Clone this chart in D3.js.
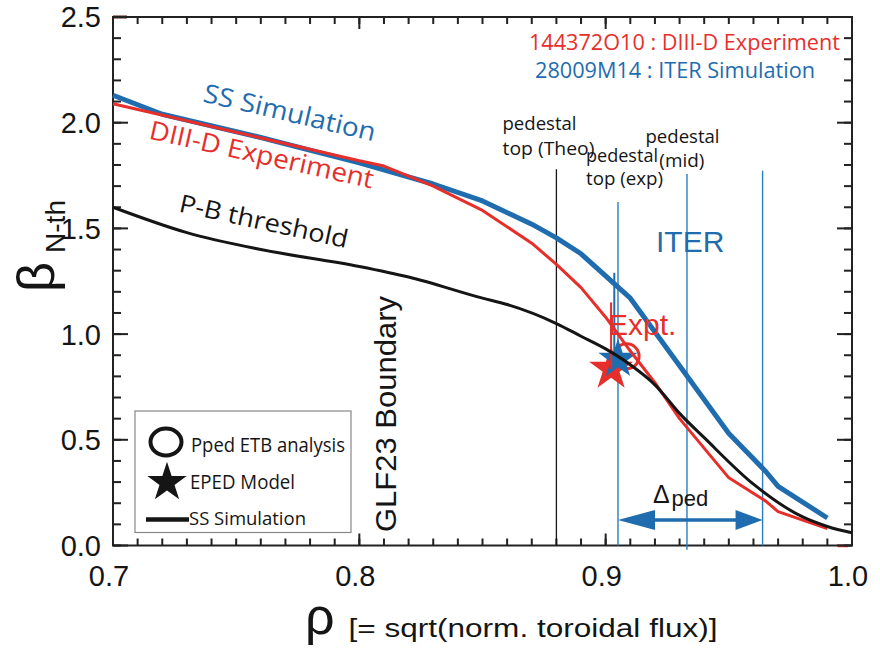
<!DOCTYPE html>
<html>
<head>
<meta charset="utf-8">
<script src="https://cdn.jsdelivr.net/npm/d3@7"></script>
<style>
  body { margin: 0; background: #fff; }
  svg { display: block; }
</style>
</head>
<body>
<svg id="chart" width="880" height="650"></svg>
<script>
// ---- profiles: normalized beta vs rho ----
const rhoSS   = [0.70, 0.72, 0.76, 0.80, 0.83, 0.85, 0.87, 0.88, 0.89, 0.91, 0.93, 0.95, 0.965, 0.97, 0.99];
const betaSS  = [2.13, 2.04, 1.93, 1.81, 1.71, 1.63, 1.52, 1.455, 1.38, 1.17, 0.85, 0.53, 0.35, 0.28, 0.13];

const rhoExp  = [0.70, 0.75, 0.80, 0.81, 0.83, 0.85, 0.87, 0.88, 0.89, 0.90, 0.91, 0.92, 0.93, 0.95, 0.965, 0.97, 0.98, 0.99];
const betaExp = [2.09, 1.955, 1.82, 1.795, 1.70, 1.585, 1.43, 1.33, 1.22, 1.08, 0.92, 0.77, 0.60, 0.32, 0.21, 0.16, 0.12, 0.08];

const rhoPB   = [0.70, 0.73, 0.76, 0.80, 0.82, 0.85, 0.86, 0.88, 0.89, 0.90, 0.91, 0.92, 0.93, 0.94, 0.96, 0.98, 0.99, 1.00];
const betaPB  = [1.60, 1.48, 1.40, 1.32, 1.27, 1.17, 1.14, 1.05, 0.99, 0.93, 0.855, 0.76, 0.625, 0.51, 0.29, 0.135, 0.09, 0.06];

// ---- pedestal positions (rho) and how high their marker lines reach (beta) ----
const pedTheoRho = 0.880, pedTheoTop = 1.78;
const iterRho    = [0.905, 0.933, 0.9637];
const iterTop    = [1.625, 1.757, 1.773];
const iterBottom = [0.0, -0.02, 0.0];

// ---- pedestal-height points: EPED stars (DIII-D, ITER) and ETB analysis circle ----
const starRho   = [0.9022, 0.905];
const starBeta  = [0.835, 0.881];
const errRho    = [0.9022, 0.9035];
const errTop    = [1.15, 1.29];
const circleRho = 0.9085, circleBeta = 0.895;

// width arrow between pedestal top and foot
const arrowRho = [0.905, 0.9637], arrowBeta = 0.121;

// ---- axis ticks ----
const xMajor = [0.7, 0.8, 0.9, 1.0];
const yMajor = [0.0, 0.5, 1.0, 1.5, 2.0, 2.5];
const xMinor = d3.range(70, 101).map(v => v / 100);
const yMinor = d3.range(0, 26).map(v => v / 10);

// ---- styles ----
const BLUE = "#1f6cae", LBLUE = "#2a7dbf", RED = "#e62f2b", INK = "#151515", AX = "#222";
const HUM = "'Open Sans','Noto Sans',sans-serif";
const HEL = "'Liberation Sans',Arial,Helvetica,sans-serif";

const svg = d3.select("#chart");
const L = 113, R = 852, T = 17, B = 545.5;
const x = d3.scaleLinear().domain([0.7, 1.0]).range([L, R]);
const y = d3.scaleLinear().domain([0, 2.5]).range([B, T]);

// ---- frame ----
const frame = svg.append("g");
frame.append("rect").attr("x", L).attr("y", T).attr("width", R - L).attr("height", B - T)
  .style("fill", "none").attr("stroke", AX).attr("stroke-width", 2);

// ---- inward ticks on all four sides, drawn as thin filled bars ----
const tk = svg.append("g").attr("fill", AX);
function xTickBars(vals, len) {
  [B - len, T].forEach(y0 => {
    tk.append("g").selectAll("rect").data(vals).join("rect")
      .attr("x", d => x(d) - 1).attr("y", y0).attr("width", 2).attr("height", len);
  });
}
function yTickBars(vals, len) {
  [L, R - len].forEach(x0 => {
    tk.append("g").selectAll("rect").data(vals).join("rect")
      .attr("y", d => y(d) - 1).attr("x", x0).attr("height", 2).attr("width", len);
  });
}
xTickBars(xMinor, 7); xTickBars(xMajor, 12);
yTickBars(yMinor, 8); yTickBars(yMajor, 15);

// corner tick marks left by the coloured traces
frame.append("line").attr("x1", L).attr("x2", L + 14).attr("y1", y(2.5)).attr("y2", y(2.5))
  .attr("stroke", "#5a1414").attr("stroke-width", 3);
frame.append("line").attr("x1", R - 14).attr("x2", R - 4).attr("y1", y(0) + 0.5).attr("y2", y(0) + 0.5)
  .attr("stroke", RED).attr("stroke-width", 2.5);

const fmt = d3.format(".1f");
svg.append("g").selectAll("text").data(xMajor).join("text")
  .attr("x", d => x(d) - 4).attr("y", 586).attr("text-anchor", "middle")
  .attr("font-family", HEL).attr("font-size", 29).attr("fill", INK).text(fmt);
svg.append("g").selectAll("text").data(yMajor).join("text")
  .attr("x", 101).attr("y", d => y(d)).attr("dy", "0.36em").attr("text-anchor", "end")
  .attr("font-family", HEL).attr("font-size", 29).attr("fill", INK).text(fmt);

const plot = svg.append("g");

// ---- pedestal marker lines ----
plot.append("line").attr("x1", x(pedTheoRho)).attr("x2", x(pedTheoRho))
  .attr("y1", y(pedTheoTop)).attr("y2", y(0)).attr("stroke", INK).attr("stroke-width", 1.3);
plot.selectAll(".iterline").data(iterRho).join("line")
  .attr("x1", d => x(d)).attr("x2", d => x(d))
  .attr("y1", (d, i) => y(iterTop[i])).attr("y2", (d, i) => y(iterBottom[i]))
  .attr("stroke", LBLUE).attr("stroke-width", 1.4);

// ---- ETB circle and EPED stars ----
plot.append("circle").attr("cx", x(circleRho)).attr("cy", y(circleBeta)).attr("r", 12.5)
  .attr("fill", "none").attr("stroke", RED).attr("stroke-width", 3);
const starSize = [600, 480], starColor = [RED, BLUE];
plot.selectAll(".star").data(starRho).join("path")
  .attr("d", (d, i) => d3.symbol(d3.symbolStar, starSize[i])())
  .attr("transform", (d, i) => `translate(${x(d)},${y(starBeta[i])})`)
  .attr("fill", (d, i) => starColor[i]);
plot.selectAll(".err").data(errRho).join("line")
  .attr("x1", d => x(d)).attr("x2", d => x(d))
  .attr("y1", (d, i) => y(errTop[i])).attr("y2", (d, i) => y(starBeta[i]))
  .attr("stroke", (d, i) => starColor[i]).attr("stroke-width", 2);

// ---- profiles ----
const lin = d3.line().x(d => x(d[0])).y(d => y(d[1]));
const smooth = d3.line().x(d => x(d[0])).y(d => y(d[1])).curve(d3.curveMonotoneX);
plot.append("path").attr("d", lin(d3.zip(rhoSS, betaSS)))
  .attr("fill", "none").attr("stroke", BLUE).attr("stroke-width", 5).attr("stroke-linejoin", "round");
plot.append("path").attr("d", lin(d3.zip(rhoExp, betaExp)))
  .attr("fill", "none").attr("stroke", RED).attr("stroke-width", 3).attr("stroke-linejoin", "round");
plot.append("path").attr("d", smooth(d3.zip(rhoPB, betaPB)))
  .attr("fill", "none").attr("stroke", INK).attr("stroke-width", 3);

// ---- pedestal width arrow ----
const ax0 = x(arrowRho[0]), ax1 = x(arrowRho[1]), ay = y(arrowBeta);
plot.append("line").attr("x1", ax0 + 20).attr("x2", ax1 - 15).attr("y1", ay).attr("y2", ay)
  .attr("stroke", BLUE).attr("stroke-width", 3.5);
plot.append("path").attr("fill", BLUE)
  .attr("d", `M${ax0},${ay} L${ax0 + 37},${ay - 10} L${ax0 + 37},${ay + 10} Z`);
plot.append("path").attr("fill", BLUE)
  .attr("d", `M${ax1},${ay} L${ax1 - 27},${ay - 10} L${ax1 - 27},${ay + 10} Z`);

// ---- text ----
function label(parent, o) {
  const t = parent.append("text")
    .attr("font-family", o.font || HUM).attr("font-size", o.size).attr("fill", o.fill || INK)
    .attr("text-anchor", o.anchor || "start")
    .attr("transform", `translate(${o.x},${o.y})` + (o.rot ? ` rotate(${o.rot})` : ""))
    .text(o.text);
  if (o.width) t.attr("textLength", o.width).attr("lengthAdjust", "spacingAndGlyphs");
  return t;
}
const txt = svg.append("g");

label(txt, { x: 529, y: 50, text: "144372O10 : DIII-D Experiment", size: 22, fill: RED, width: 311 });
label(txt, { x: 535, y: 78, text: "28009M14 : ITER Simulation", size: 22, fill: BLUE, width: 280 });

label(txt, { x: 202, y: 101.5, rot: 13.1, text: "SS Simulation", size: 26, fill: BLUE, width: 176 });
label(txt, { x: 148, y: 138.5, rot: 12.6, text: "DIII-D Experiment", size: 26, fill: RED, width: 229 });
label(txt, { x: 178, y: 211.5, rot: 12.3, text: "P-B threshold", size: 25, fill: INK, width: 172 });

label(txt, { x: 502.5, y: 130, text: "pedestal", size: 18, width: 74 });
label(txt, { x: 502.5, y: 155, text: "top (Theo)", size: 18, width: 92 });
label(txt, { x: 586, y: 161.5, text: "pedestal", size: 18, width: 72 });
label(txt, { x: 586, y: 185, text: "top (exp)", size: 18, width: 77 });
label(txt, { x: 645.5, y: 143.3, text: "pedestal", size: 18, width: 74 });
label(txt, { x: 659.3, y: 166.7, text: "(mid)", size: 18, width: 45 });

label(txt, { x: 656, y: 251.7, text: "ITER", size: 30, font: HEL, fill: BLUE });
label(txt, { x: 608, y: 335, text: "Expt.", size: 30, font: HEL, fill: RED });
label(txt, { x: 396, y: 532, rot: -90, text: "GLF23 Boundary", size: 30, font: HEL, width: 236 });

const dl = txt.append("text").attr("font-family", HEL).attr("fill", INK);
dl.append("tspan").attr("x", 653).attr("y", 503).attr("font-size", 25).text("Δ");
dl.append("tspan").attr("x", 671.5).attr("y", 506).attr("font-size", 22).text("ped");

// ---- legend ----
const lg = svg.append("g");
lg.append("rect").attr("x", 135).attr("y", 411).attr("width", 216).attr("height", 121.5)
  .attr("fill", "#fff").attr("stroke", "#888").attr("stroke-width", 1.2);
lg.append("ellipse").attr("cx", 166).attr("cy", 442).attr("rx", 15.5).attr("ry", 13.4)
  .attr("fill", "none").attr("stroke", INK).attr("stroke-width", 4);
lg.append("path").attr("d", d3.symbol(d3.symbolStar, 480)())
  .attr("transform", "translate(167,482.5)").attr("fill", INK);
lg.append("line").attr("x1", 146).attr("x2", 189).attr("y1", 519.5).attr("y2", 519.5)
  .attr("stroke", INK).attr("stroke-width", 4.5);
label(lg, { x: 191, y: 451.7, text: "Pped ETB analysis", size: 19.5, width: 154 });
label(lg, { x: 190, y: 488.5, text: "EPED Model", size: 19.5, width: 105 });
label(lg, { x: 189, y: 524.5, text: "SS Simulation", size: 19, width: 117 });

// ---- axis titles ----
label(txt, { x: 54, y: 292, rot: -90, text: "β", size: 52, font: HEL, width: 30 });
label(txt, { x: 65, y: 253, rot: -90, text: "N-th", size: 27, font: HEL, width: 53 });

label(txt, { x: 305, y: 634, text: "ρ", size: 52, font: HEL });
label(txt, { x: 348.5, y: 637, text: "[= sqrt(norm. toroidal flux)]", size: 26, font: HEL, width: 369 });
</script>
</body>
</html>
